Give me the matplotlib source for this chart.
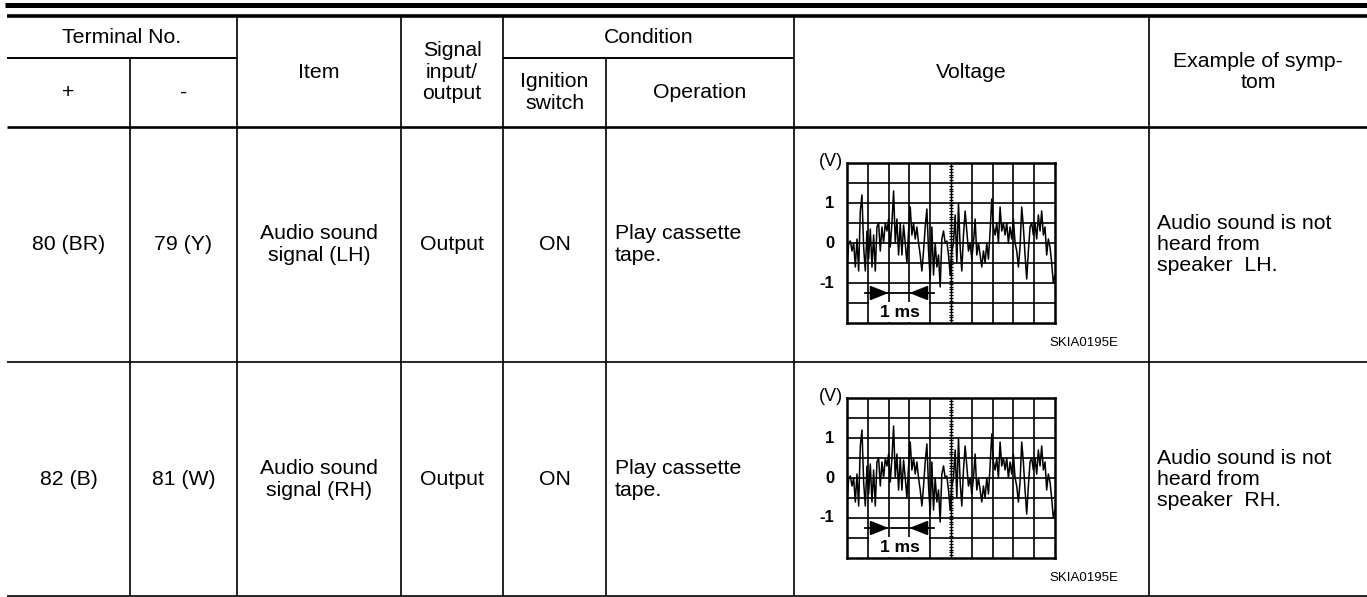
import matplotlib
matplotlib.use("Agg")
import matplotlib.pyplot as plt
import numpy as np

plt.rcParams['font.family'] = ['Liberation Sans', 'DejaVu Sans']

# table contents
header_terminal = "Terminal No."
header_plus = "+"
header_minus = "-"
header_item = "Item"
header_signal = "Signal\ninput/\noutput"
header_condition = "Condition"
header_ignition = "Ignition\nswitch"
header_operation = "Operation"
header_voltage = "Voltage"
header_symptom = "Example of symp-\ntom"

terminal_plus = ["80 (BR)", "82 (B)"]
terminal_minus = ["79 (Y)", "81 (W)"]
items = ["Audio sound\nsignal (LH)", "Audio sound\nsignal (RH)"]
signal_io = ["Output", "Output"]
ignition = ["ON", "ON"]
operation = ["Play cassette\ntape.", "Play cassette\ntape."]
symptoms = ["Audio sound is not\nheard from\nspeaker  LH.",
            "Audio sound is not\nheard from\nspeaker  RH."]
figure_code = "SKIA0195E"

# oscilloscope trace (V), sampled across 10 ms
wave_v = [-0.6, 0.0, 0.05, -0.2, 0.0, -0.6, 0.1, -0.7, 0.8, 1.2,
          -0.1, -0.7, 0.3, -0.4, 0.35, -0.6, 0.2, -0.7, 0.4, 0.5,
          -0.2, 0.4, 0.0, 0.5, 0.3, 0.6, -0.1, 0.5, 1.3, 0.0,
          0.6, -0.3, 0.5, -0.3, 0.45, 0.0, -0.5, 0.3, 0.9, 0.2,
          0.5, 0.1, 0.4, 0.0, -0.3, -0.7, -0.2, 0.4, 0.85, -0.2,
          -0.9, 0.4, -0.8, 0.0, -0.6, -0.3, -1.1, 0.1, 0.3, 0.0,
          0.05, -0.3, -0.8, -0.2, 0.0, 0.7, -0.5, 1.0, -0.1, -0.7,
          0.2, 0.8, 0.3, -0.2, 0.0, -0.4, 0.0, 0.6, -0.3, 0.0,
          -0.3, -0.6, -0.2, -0.5, 0.0, -0.4, 0.3, 1.1, 0.4, 0.2,
          0.5, 0.0, 0.9, 0.3, 0.5, 0.2, 0.5, 0.0, 0.4, 0.1,
          0.6, 0.0, -0.2, -0.6, -0.1, 0.9, 0.4, -0.3, -0.9, -0.2,
          0.4, 0.5, 0.2, 0.5, 0.1, 0.7, 0.3, 0.8, 0.2, 0.4,
          -0.3, 0.1, -0.1, -0.5, -1.0, -0.8]
wave_t = np.linspace(0, 10, len(wave_v))

W, H = 1367, 597
fig = plt.figure(figsize=(W / 100, H / 100), dpi=100)
ax = fig.add_axes([0, 0, 1, 1])
ax.set_xlim(0, W)
ax.set_ylim(H, 0)
ax.axis('off')

# column edges and row edges in pixels
cols = [7, 130, 237, 401, 503, 606, 794, 1149, W]
y_top, y_sub, y_head, y_row, y_bot = 17, 58, 127, 362, 596
fs = 15.3

# rules
ax.hlines(4.5, 5, W, color='k', lw=3.6)
ax.hlines(15.5, 7, W, color='k', lw=2.6)
ax.hlines(y_sub, cols[0], cols[2], color='k', lw=1.4)
ax.hlines(y_sub, cols[4], cols[6], color='k', lw=1.4)
ax.hlines(y_head, cols[0], W, color='k', lw=1.9)
ax.hlines(y_row, cols[0], W, color='k', lw=1.2)
ax.hlines(y_bot, cols[0], W, color='k', lw=1.2)
for c in [cols[2], cols[3], cols[4], cols[6], cols[7]]:
    ax.vlines(c, y_top, y_bot, color='k', lw=1.2)
for c in [cols[1], cols[5]]:
    ax.vlines(c, y_sub, y_bot, color='k', lw=1.2)

def mid(i, j=None):
    j = i + 1 if j is None else j
    return (cols[i] + cols[j]) / 2

# header
ax.text(mid(0, 2), (y_top + y_sub) / 2, header_terminal, ha='center', va='center', fontsize=fs)
ax.text(mid(0), (y_sub + y_head) / 2, header_plus, ha='center', va='center', fontsize=fs)
ax.text(mid(1), (y_sub + y_head) / 2, header_minus, ha='center', va='center', fontsize=fs)
ax.text(mid(2), (y_top + y_head) / 2, header_item, ha='center', va='center', fontsize=fs)
ax.text(mid(3), (y_top + y_head) / 2, header_signal, ha='center', va='center',
        fontsize=fs, linespacing=1.15)
ax.text(mid(4, 6), (y_top + y_sub) / 2, header_condition, ha='center', va='center', fontsize=fs)
ax.text(mid(4), (y_sub + y_head) / 2, header_ignition, ha='center', va='center',
        fontsize=fs, linespacing=1.15)
ax.text(mid(5), (y_sub + y_head) / 2, header_operation, ha='center', va='center', fontsize=fs)
ax.text(mid(6), (y_top + y_head) / 2, header_voltage, ha='center', va='center', fontsize=fs)
ax.text(mid(7), (y_top + y_head) / 2, header_symptom, ha='center', va='center',
        fontsize=fs, linespacing=1.1)

row_tops = [y_head, y_row]
row_h = y_row - y_head
arrow_style = dict(arrowstyle='-|>,head_length=0.7,head_width=0.28', color='k', lw=1.3,
                   mutation_scale=16, shrinkA=0, shrinkB=0)
for r in range(2):
    yc = row_tops[r] + row_h / 2
    ax.text(mid(0), yc, terminal_plus[r], ha='center', va='center', fontsize=fs)
    ax.text(mid(1), yc, terminal_minus[r], ha='center', va='center', fontsize=fs)
    ax.text(mid(2), yc, items[r], ha='center', va='center', fontsize=fs, linespacing=1.15)
    ax.text(mid(3), yc, signal_io[r], ha='center', va='center', fontsize=fs)
    ax.text(mid(4), yc, ignition[r], ha='center', va='center', fontsize=fs)
    ax.text(cols[5] + 9, yc, operation[r], ha='left', va='center', fontsize=fs, linespacing=1.15)
    ax.text(cols[7] + 8, yc, symptoms[r], ha='left', va='center', fontsize=fs, linespacing=1.15)
    ax.text(1118, row_tops[r] + 216, figure_code, ha='right', va='center', fontsize=9.5)

    # oscilloscope
    gx0, gx1 = 847, 1055
    gy0 = row_tops[r] + 36
    gy1 = gy0 + 160
    sax = fig.add_axes([gx0 / W, 1 - gy1 / H, (gx1 - gx0) / W, (gy1 - gy0) / H])
    sax.set_xlim(0, 10)
    sax.set_ylim(-2, 2)
    sax.set_xticks([])
    sax.set_yticks(np.arange(-1.5, 2.0, 0.5))
    sax.tick_params(length=0, labelbottom=False, labelleft=False)
    sax.yaxis.grid(True, color='k', lw=1.2)
    sax.set_axisbelow(True)
    for s in sax.spines.values():
        s.set_linewidth(1.8)
    for xv in range(1, 10):
        if xv != 5:
            sax.axvline(xv, color='k', lw=1.2, zorder=0.5)
    sax.axvline(5, color='k', lw=1.0, zorder=1)
    ticks = np.arange(-2, 2, 0.07)
    sax.plot(np.full(len(ticks), 5), ticks, ls='none', marker='_', ms=3.5, mew=0.9,
             color='k', zorder=1)
    sax.plot(wave_t, wave_v, color='k', lw=1.1, zorder=2)

    # 1 ms marker
    sax.add_patch(plt.Rectangle((1.06, -1.97), 2.88, 0.5, facecolor='white',
                                edgecolor='none', zorder=3))
    sax.plot([0.85, 4.2], [-1.25, -1.25], color='k', lw=1.3, zorder=4)
    sax.annotate('', xy=(2, -1.25), xytext=(1.0, -1.25), arrowprops=arrow_style, zorder=4)
    sax.annotate('', xy=(3, -1.25), xytext=(4.0, -1.25), arrowprops=arrow_style, zorder=4)
    sax.text(2.55, -1.74, "1 ms", ha='center', va='center', fontsize=12.5,
             fontweight='bold', zorder=5)

    for v, lab in [(1, "1"), (0, "0"), (-1, "-1")]:
        sax.text(-0.06, (v + 2) / 4, lab, transform=sax.transAxes, ha='right',
                 va='center', fontsize=12, fontweight='bold')
    sax.text(-0.075, 1.01, "(V)", transform=sax.transAxes, ha='center', va='center',
             fontsize=13)

fig.savefig("out.png", dpi=100)
